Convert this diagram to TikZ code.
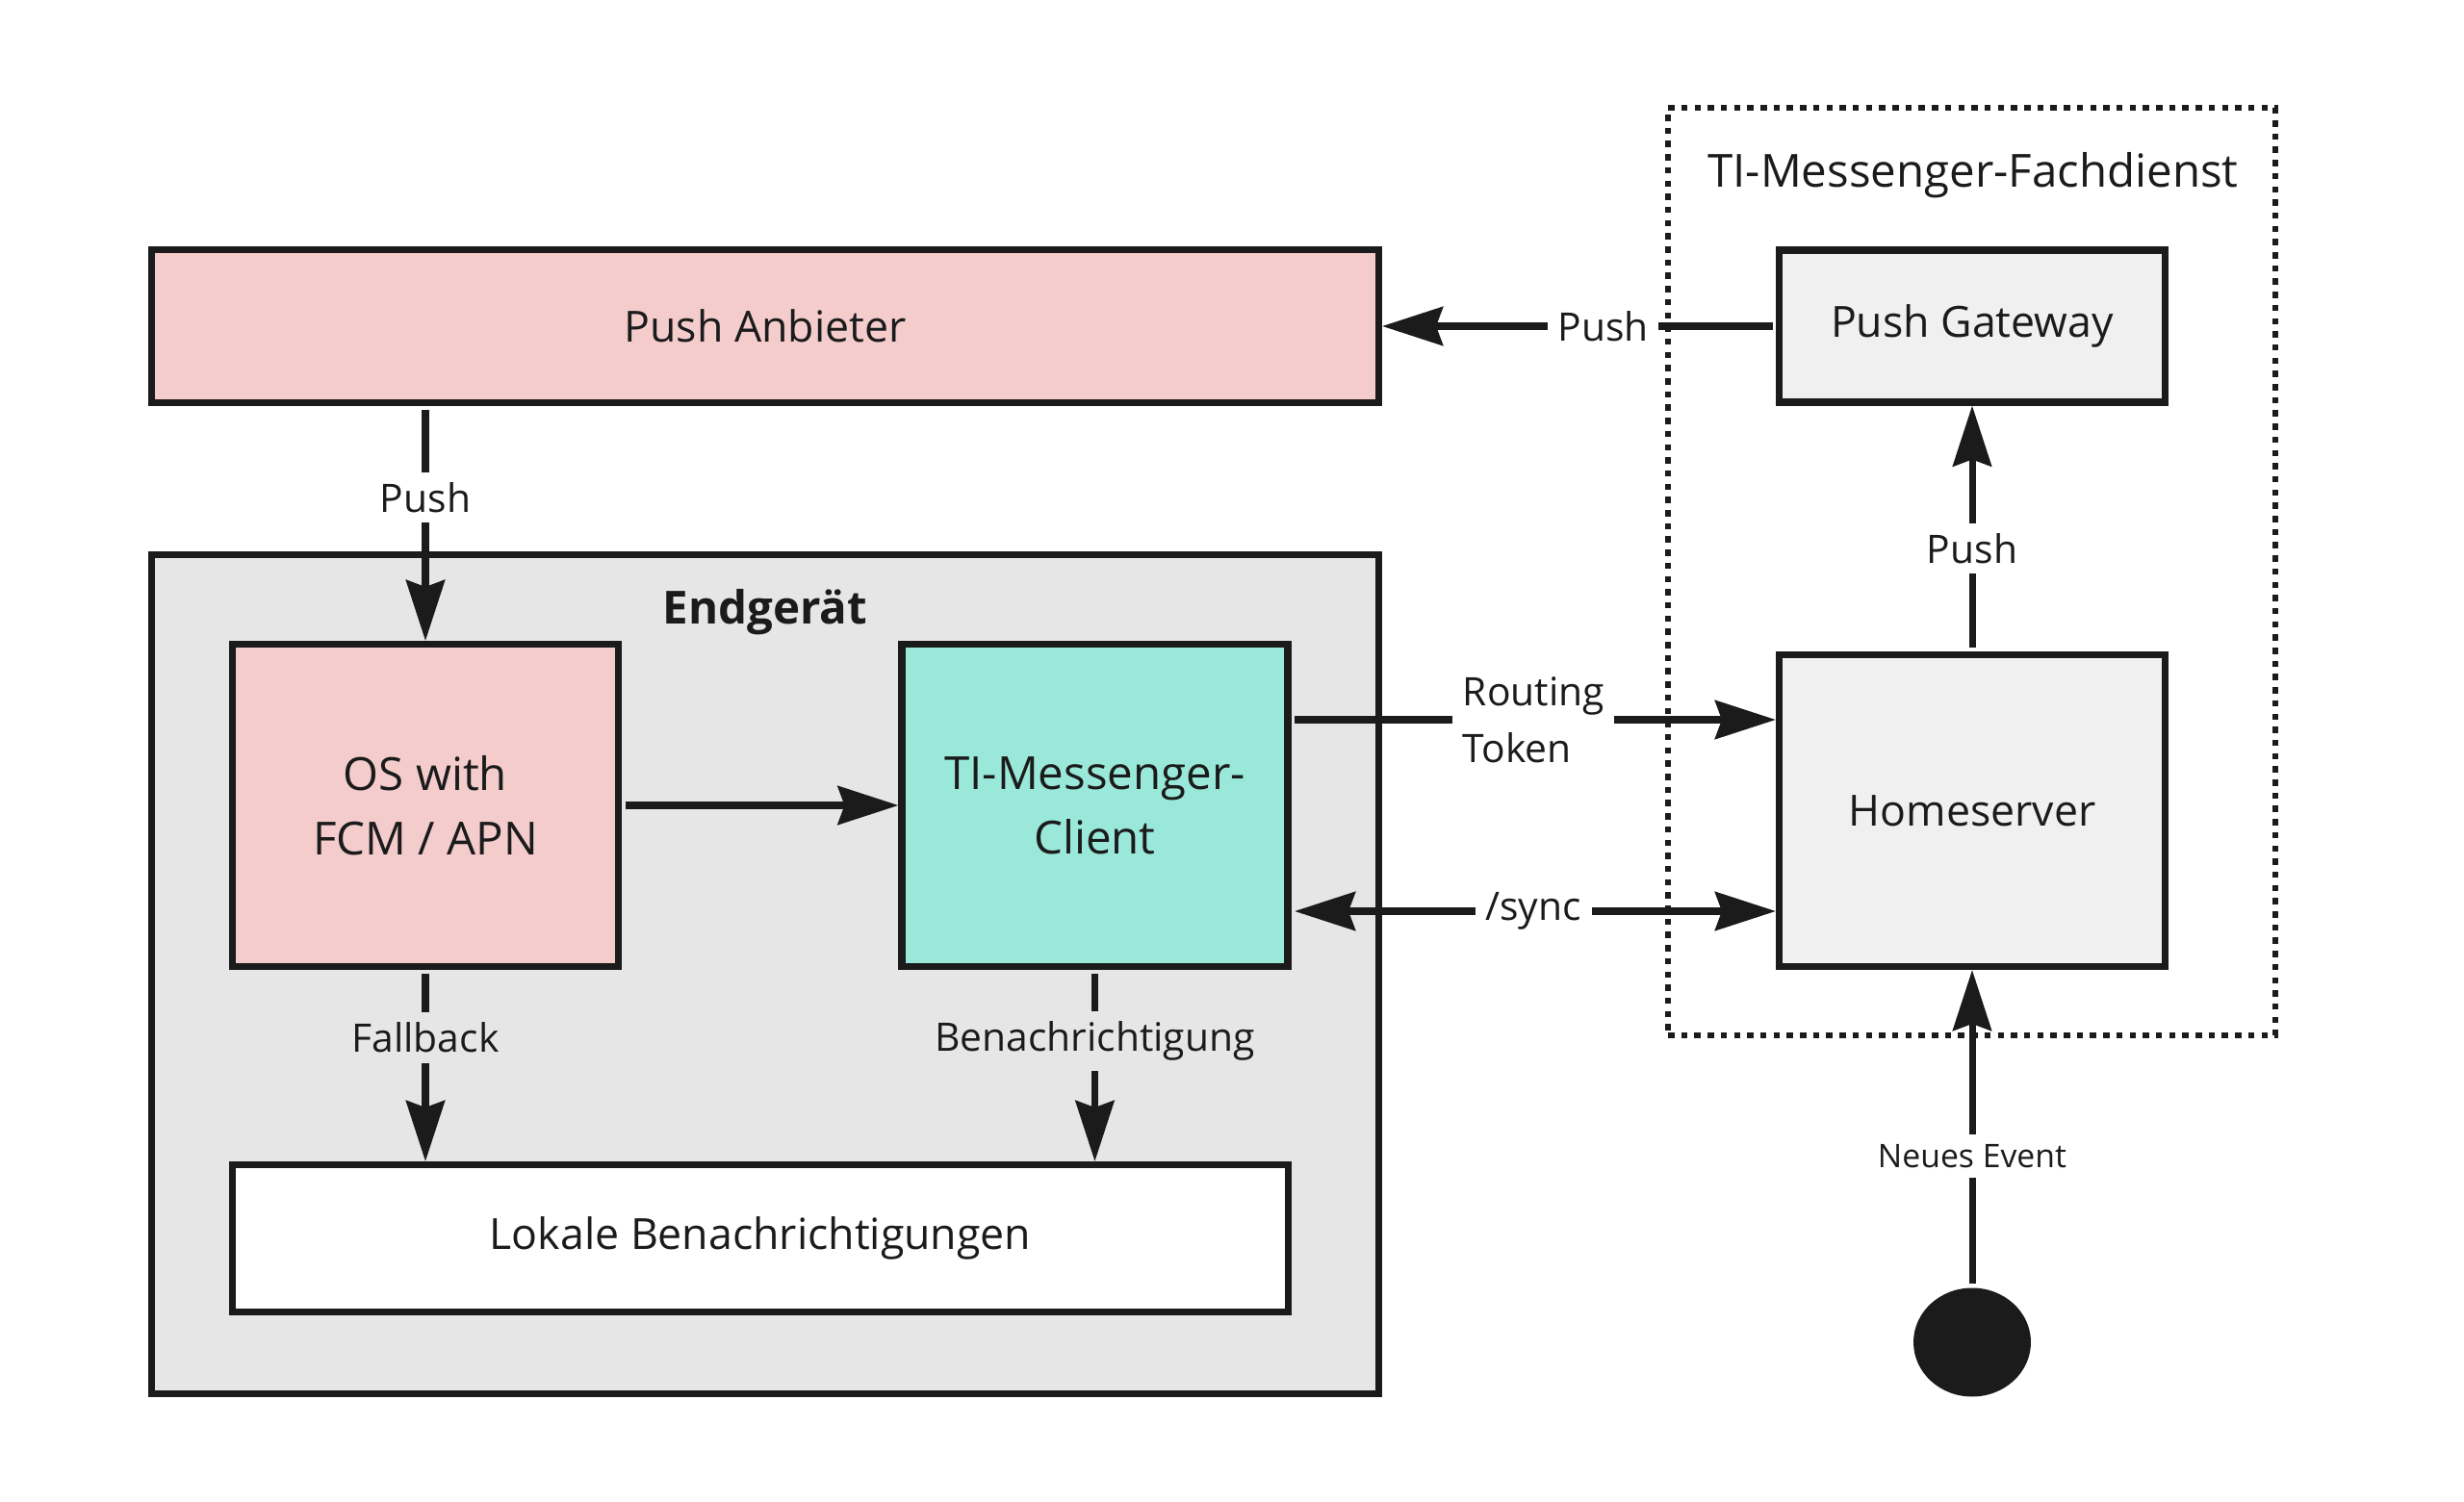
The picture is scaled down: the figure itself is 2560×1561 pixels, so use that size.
\documentclass[tikz,border=0pt]{standalone}
\usepackage{fontspec}
\setmainfont{Open Sans}
\usetikzlibrary{arrows.meta,shapes.geometric}

\definecolor{linec}{HTML}{1B1B1B}
\definecolor{pushpink}{HTML}{F4CCCC}
\definecolor{clientteal}{HTML}{99E8D9}
\definecolor{devicegray}{HTML}{E6E6E6}
\definecolor{servicegray}{HTML}{F0F0F0}

\newcommand{\nodefont}{\fontsize{12.7}{18}\selectfont}
\newcommand{\bignodefont}{\fontsize{13.5}{19}\selectfont}
\newcommand{\edgefont}{\fontsize{11.6}{16.8}\selectfont}
\newcommand{\eventfont}{\fontsize{9.6}{12}\selectfont}

\tikzset{
	>={Stealth[length=6.3mm, width=4mm, inset=0.7mm]},
	box/.style={draw=linec, line width=2pt, text=linec, font=\nodefont, align=center, inner sep=0pt},
	conn/.style={draw=linec, line width=2pt, ->, shorten <=0.35mm},
	lbl/.style={fill=white, text=linec, font=\edgefont, inner sep=3pt},
	frame/.style={draw=linec, line width=1.6pt, dash pattern=on 0.65mm off 0.72mm, inner sep=0pt}
}

\begin{document}
\begin{tikzpicture}[x=0.1mm, y=-0.1mm]
	\useasboundingbox (0,0) rectangle (2560,1561);
	% Container
	\node[frame, minimum width=63.1mm, minimum height=96.4mm] (fachdienst) at (2048.5,594) {};
	\node[anchor=base, text=linec, font=\bignodefont] (fachdiensttitle) at (2050,195) {TI-Messenger-Fachdienst};
	\node[box, fill=devicegray, minimum width=127.5mm, minimum height=87.2mm] (endgeraet) at (795,1012.5) {};
	\node[anchor=base, text=linec, font=\bignodefont\bfseries] (endgeraettitle) at (795,649) {Endgerät};

	% Boxes
	\node[box, fill=pushpink, minimum width=127.5mm, minimum height=15.9mm] (anbieter) at (795,339) {Push Anbieter};
	\node[box, fill=pushpink, font=\bignodefont, minimum width=40.1mm, minimum height=33.5mm] (os) at (442,837) {OS with\\FCM / APN};
	\node[box, fill=clientteal, font=\bignodefont, minimum width=40.1mm, minimum height=33.5mm] (client) at (1137.5,837) {TI-Messenger-\\Client};
	\node[box, fill=white, minimum width=109.7mm, minimum height=15.3mm] (lokale) at (790,1287) {Lokale Benachrichtigungen};
	\node[box, fill=servicegray, minimum width=40.1mm, minimum height=15.8mm] (gateway) at (2049,339) {Push Gateway};
	\node[box, fill=servicegray, minimum width=40.1mm, minimum height=32.4mm] (homeserver) at (2049,842.5) {Homeserver};
	\node[ellipse, fill=linec, minimum width=12.2mm, minimum height=11.3mm, inner sep=0pt] (event) at (2049,1395) {};

	% Connectors
	\draw[conn] (gateway.west) -- (anbieter.east) node[lbl, pos=0.438] {Push};
	\draw[conn] (anbieter.south -| os.north) -- (os.north) node[lbl, pos=0.389] {Push};
	\draw[conn] (os.east) -- (client.west);
	\draw[conn] (os.south) -- (os.south |- lokale.north) node[lbl, fill=devicegray, pos=0.354] {Fallback};
	\draw[conn] (client.south) -- (client.south |- lokale.north) node[lbl, fill=devicegray, pos=0.37] {Benachrichtigung};
	\draw[conn] ([yshift=8.9mm]client.east) -- ([yshift=8.9mm]client.east -| homeserver.west) node[lbl, align=left, pos=0.5] {Routing\\Token};
	\draw[conn, <->] ([yshift=-11mm]client.east) -- ([yshift=-11mm]client.east -| homeserver.west) node[lbl, pos=0.5] {/sync};
	\draw[conn] (homeserver.north) -- (gateway.south) node[lbl, pos=0.418] {Push};
	\draw[conn] (event.north) -- (homeserver.south) node[lbl, font=\eventfont, pos=0.413] {Neues Event};
\end{tikzpicture}
\end{document}
